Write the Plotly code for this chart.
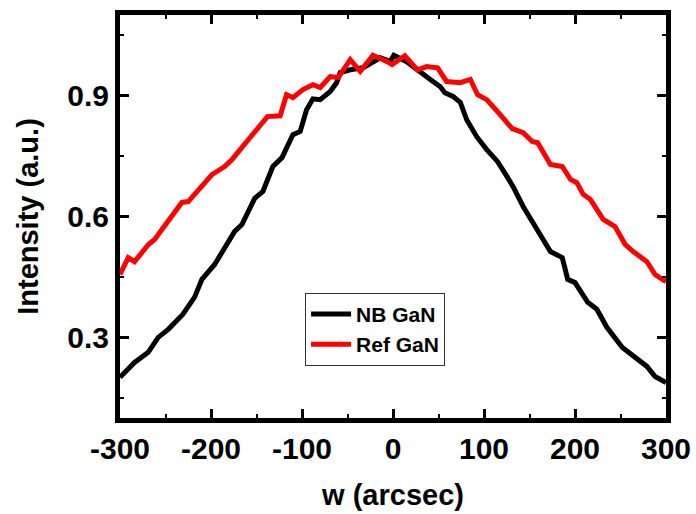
import plotly.graph_objects as go

nb_x = [-300, -284, -269, -258, -247, -237, -231, -218, -210, -196, -181, -174, -166, -157, -152,
        -143, -132, -122, -110, -102, -95, -88, -80, -69, -62, -58, -47, -33, -22, -14, -3, 1,
        15, 30, 41, 52, 57, 66, 74, 81, 92, 103, 115, 125, 132, 143, 158, 173, 186, 192, 200,
        214, 224, 235, 252, 264, 279, 288, 300]
nb_y = [0.201, 0.238, 0.263, 0.30, 0.32, 0.345, 0.357, 0.40, 0.444, 0.481, 0.536, 0.563, 0.58, 0.625, 0.645,
        0.662, 0.724, 0.746, 0.803, 0.811, 0.865, 0.892, 0.89, 0.91, 0.932, 0.957, 0.964, 0.969, 0.982, 0.994, 0.985, 1.0,
        0.984, 0.957, 0.94, 0.922, 0.907, 0.898, 0.883, 0.84, 0.798, 0.766, 0.736, 0.70, 0.674, 0.625, 0.568, 0.513, 0.498, 0.444, 0.436,
        0.387, 0.37, 0.325, 0.275, 0.253, 0.228, 0.203, 0.188]

ref_x = [-300, -291, -284, -269, -262, -247, -232, -225, -214, -199, -185, -177, -168, -157, -138,
         -124, -117, -110, -99, -88, -80, -69, -60, -47, -36, -22, -14, -7, -1, 13, 27, 37, 49, 59,
         74, 85, 93, 103, 115, 131, 143, 153, 159, 173, 186, 195, 202, 209, 217, 231, 244, 255,
         264, 279, 288, 300]
ref_y = [0.456, 0.498, 0.488, 0.53, 0.543, 0.588, 0.635, 0.637, 0.667, 0.704, 0.724, 0.741, 0.766, 0.796, 0.848,
         0.85, 0.902, 0.895, 0.915, 0.927, 0.92, 0.947, 0.945, 0.989, 0.96, 1.0, 0.993, 0.985, 0.977, 0.999, 0.964, 0.972, 0.969, 0.935,
         0.932, 0.94, 0.902, 0.89, 0.86, 0.818, 0.808, 0.786, 0.783, 0.729, 0.724, 0.692, 0.684, 0.655, 0.642, 0.593, 0.575, 0.531,
         0.513, 0.488, 0.456, 0.438]

x_ticks = [-300, -200, -100, 0, 100, 200, 300]
y_ticks = [0.3, 0.6, 0.9]

fig = go.Figure()
fig.add_trace(go.Scatter(x=nb_x, y=nb_y, mode="lines", name="<b>NB GaN</b>",
                         line=dict(color="black", width=5)))
fig.add_trace(go.Scatter(x=ref_x, y=ref_y, mode="lines", name="<b>Ref GaN</b>",
                         line=dict(color="#ff0000", width=5)))

FONT = "Liberation Sans, Arial"
axis_font = dict(family=FONT, size=30, color="black")
fig.update_layout(
    width=696, height=514,
    margin=dict(l=120, r=30, t=15, b=96),
    paper_bgcolor="white", plot_bgcolor="white",
    font=dict(family=FONT, color="black"),
    showlegend=True,
    legend=dict(x=0.339, y=0.22, xanchor="left", yanchor="middle",
                bordercolor="#333333", borderwidth=1, bgcolor="white",
                font=dict(size=21, family=FONT, color="black"),
                itemwidth=40, tracegroupgap=0),
    xaxis=dict(range=[-300, 300], tickvals=x_ticks, ticktext=[f"<b>{v}</b>" for v in x_ticks],
               automargin=False,
               showgrid=False, zeroline=False, showline=True, linewidth=5, linecolor="black",
               mirror="ticks", ticks="inside", ticklen=9, tickwidth=3, tickcolor="black",
               minor=dict(dtick=50, tick0=0, ticks="inside", ticklen=4, tickwidth=2, tickcolor="black"),
               tickfont=axis_font,
               title=dict(text="<b>w (arcsec)</b>", font=dict(size=29, family=FONT), standoff=22)),
    yaxis=dict(range=[0.1, 1.1], tickvals=y_ticks, ticktext=[f"<b>{v}</b>" for v in y_ticks],
               automargin=False,
               showgrid=False, zeroline=False, showline=True, linewidth=5, linecolor="black",
               mirror="ticks", ticks="inside", ticklen=9, tickwidth=3, tickcolor="black",
               minor=dict(dtick=0.15, tick0=0.0, ticks="inside", ticklen=4, tickwidth=2, tickcolor="black"),
               tickfont=axis_font,
               title=dict(text="<b>Intensity (a.u.)</b>", font=dict(size=29, family=FONT), standoff=22)),
)

fig.write_html("out.html", config={"displayModeBar": False},
               post_script="document.body.style.margin='0px';document.body.style.overflow='hidden';")
